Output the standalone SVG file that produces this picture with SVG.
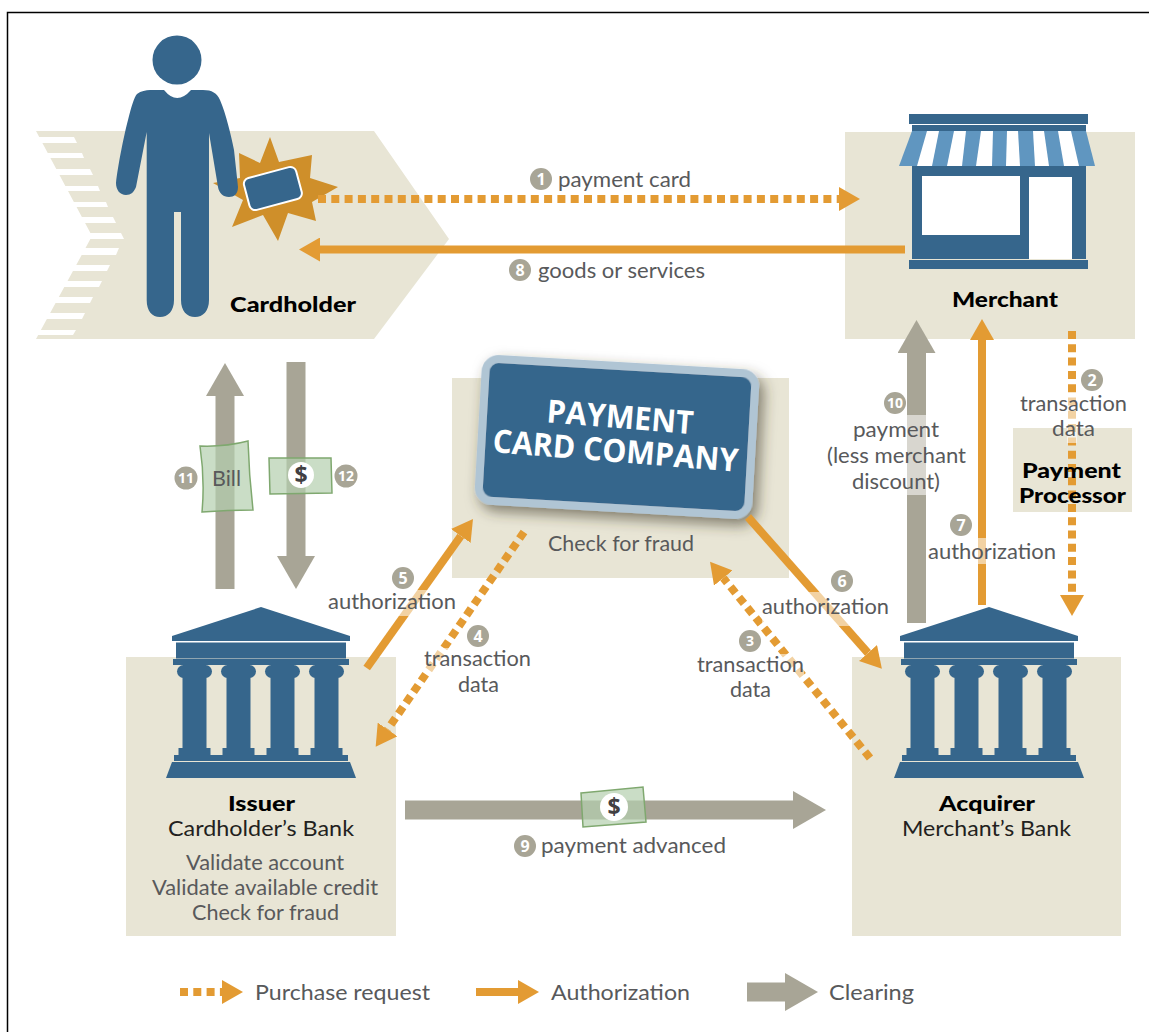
<svg xmlns="http://www.w3.org/2000/svg" xmlns:xlink="http://www.w3.org/1999/xlink" width="1149" height="1032" viewBox="0 0 1149 1032">
<style>
.bg{fill:#e8e5d5}
.blue{fill:#36668c}
.t{font-family:"Lato","Open Sans",sans-serif;font-size:21.500px;fill:#58595b}
.k{fill:#231f20}
.b{font-family:"Lato","Open Sans",sans-serif;font-size:21.500px;font-weight:900;fill:#000}
.n{font-family:"Open Sans","Noto Sans",sans-serif;font-weight:700;font-size:16px;fill:#fff;text-anchor:middle}
.n2{font-size:14px}
.cb{fill:#a8a596}
.o{fill:none;stroke:#e39b33;stroke-width:8;marker-end:url(#ho)}
.d{stroke-dasharray:8 5.3}
.g{fill:none;stroke:#a8a596;stroke-width:19;marker-end:url(#hg)}
.bill{fill:#b3cfae;fill-opacity:.7;stroke:#7fa86f;stroke-width:1.5}
.halo{fill:#fff;fill-opacity:.55}
.dollar{font-family:"Open Sans","Noto Sans",sans-serif;font-weight:700;font-size:23px;fill:#414042;text-anchor:middle}
</style>
<defs>
<marker id="ho" markerUnits="userSpaceOnUse" markerWidth="21" markerHeight="24" refX="0" refY="12" orient="auto"><path d="M0,0L21,12L0,24z" fill="#e39b33"/></marker>
<marker id="hg" markerUnits="userSpaceOnUse" markerWidth="33" markerHeight="38" refX="0" refY="19" orient="auto"><path d="M0,0L33,19L0,38z" fill="#a8a596"/></marker>
<filter id="sh" x="-15%" y="-20%" width="135%" height="150%"><feDropShadow dx="5" dy="6" stdDeviation="7" flood-color="#3a3726" flood-opacity=".6"/></filter>
<g id="col" class="blue"><rect x="-17.500" y="665" width="35" height="13" rx="6.500"/><rect x="-12" y="670" width="24" height="80"/><rect x="-16" y="748" width="32" height="7"/></g>
<g id="bank" class="blue">
<path d="M-89,641V636L0,607L89,636V641z"/>
<rect x="-85" y="642.500" width="170" height="16"/>
<rect x="-88" y="659" width="176" height="6"/>
<use xlink:href="#col" x="-66.500"/><use xlink:href="#col" x="-22.500"/><use xlink:href="#col" x="21.500"/><use xlink:href="#col" x="65.500"/>
<rect x="-87" y="755" width="174" height="6"/>
<path d="M-89,762H89L95,778H-95z"/>
</g>
</defs>
<rect width="1149" height="1032" fill="#fff"/>
<path d="M1149,12.500H7.500V1032" fill="none" stroke="#000" stroke-width="1.500"/>

<g id="cardholder">
<path class="bg" d="M36,131H374L449,239L374,339H36L92,236z"/>
<g fill="#fff">
<path d="M30,137H74L77,143H30z"/><path d="M30,153H82L84,158H30z"/><path d="M30,169H90L93,175H30z"/><path d="M30,186H98L100,191H30z"/><path d="M30,202H106L108,207H30z"/><path d="M30,217H113L116,223H30z"/><path d="M30,233H121L124,239H30z"/>
<path d="M30,248H119L116,255H30z"/><path d="M30,265H110L107,271H30z"/><path d="M30,281H102L99,287H30z"/><path d="M30,297H93L90,303H30z"/><path d="M30,313H85L82,319H30z"/><path d="M30,330H76L73,335H30z"/>
</g>
<path d="M270,137L279,162L312,155L310,178L338,187L312,202L316,221L288,213L278,241L263,215L232,227L243,200L213,183L240,178L239,153L260,163z" fill="#cf8f2a"/>
<rect x="246" y="172" width="54" height="33" rx="6" transform="rotate(-15 273 189)" class="blue" stroke="#fff" stroke-width="2"/>
<circle class="blue" cx="177" cy="60" r="24.500"/>
<path class="blue" d="M164,90Q177,106 191,90H203C212,90 217,93 220,100C226,114 231,135 234,150L238,187C238,194 234,197 229,197C223,197 219,193 218,187L209,133V300C209,311 203,317 195,317C187,317 181,311 181,300V212H174V300C174,311 168,317 160,317C152,317 146.700,311 146.700,300V132L136,187C134,192 131,195 126,195C120,195 116,190 116,183C118,165 124,135 128,120C131,108 134,97 137,94C141,91 146,90 150,90z"/>
<text class="b" x="230" y="312" textLength="126" lengthAdjust="spacingAndGlyphs">Cardholder</text>
</g>

<g id="merchant">
<rect class="bg" x="845" y="132" width="290" height="207"/>
<rect class="blue" x="909" y="114" width="179" height="10"/>
<rect class="blue" x="912" y="125" width="174" height="6"/>
<path d="M912,131H1086L1095,166H899z" fill="#6096c0"/>
<g fill="#fff"><path d="M927,131H939L932,166H917z"/><path d="M954,131H966L962,166H947z"/><path d="M981,131H993L992,166H976z"/><path d="M1007,131H1018L1020,166H1006z"/><path d="M1033,131H1044L1049,166H1035z"/><path d="M1058,131H1071L1079,166H1064z"/></g>
<rect class="blue" x="912" y="166" width="174" height="93"/>
<rect x="922" y="176" width="98" height="59" fill="#fff"/>
<rect x="1029" y="177" width="43" height="82" fill="#fff"/>
<rect class="blue" x="909" y="260" width="179" height="9"/>
<text class="b" x="952" y="307" textLength="106" lengthAdjust="spacingAndGlyphs">Merchant</text>
</g>

<g id="processor">
<rect class="bg" x="1013" y="428" width="119" height="84"/>
</g>

<g id="company">
<rect class="bg" x="452" y="378" width="337" height="200"/>
<rect x="482" y="366" width="270" height="142" rx="13" transform="rotate(3.300 617 437)" class="blue" stroke="#b0c5d4" stroke-width="8" filter="url(#sh)"/>
<g transform="rotate(4.600 616 445)" font-family="'Open Sans','Noto Sans',sans-serif" font-weight="700" font-size="32" fill="#fff" text-anchor="middle">
<text x="618" y="428" textLength="147" lengthAdjust="spacingAndGlyphs">PAYMENT</text>
<text x="616" y="462" textLength="246" lengthAdjust="spacingAndGlyphs">CARD COMPANY</text>
</g>
<text class="t" x="548" y="551" textLength="146" lengthAdjust="spacingAndGlyphs">Check for fraud</text>
</g>

<g id="issuer">
<rect class="bg" x="126" y="657" width="270" height="279"/>
<use xlink:href="#bank" x="261"/>
<text class="b" x="228" y="811" textLength="67" lengthAdjust="spacingAndGlyphs">Issuer</text>
<text class="t k" x="168" y="836" textLength="186" lengthAdjust="spacingAndGlyphs">Cardholder’s Bank</text>
<text class="t" x="186" y="870" textLength="158" lengthAdjust="spacingAndGlyphs">Validate account</text>
<text class="t" x="152" y="895" textLength="226" lengthAdjust="spacingAndGlyphs">Validate available credit</text>
<text class="t" x="192" y="920" textLength="147" lengthAdjust="spacingAndGlyphs">Check for fraud</text>
</g>

<g id="acquirer">
<rect class="bg" x="852" y="657" width="269" height="279"/>
<use xlink:href="#bank" x="989"/>
<text class="b" x="939" y="811" textLength="96" lengthAdjust="spacingAndGlyphs">Acquirer</text>
<text class="t k" x="902" y="836" textLength="169" lengthAdjust="spacingAndGlyphs">Merchant’s Bank</text>
</g>

<g id="connectors">
<path class="o d" d="M318,199H839"/>
<path class="o" d="M905,249.500H320"/>
<path class="o d" d="M1072,331V595"/>
<path class="o" d="M982,605V340"/>
<path class="g" d="M916.500,623V353"/>
<path class="g" d="M225,589V396"/>
<path class="g" d="M296,362V556"/>
<path class="g" d="M405,810H793"/>
<path class="o" d="M366.700,668L460.800,536"/>
<path class="o" d="M748,517L868,653"/>
<path class="o d" d="M524,532L387.600,729.400"/>
<path class="o d" d="M870,758L723.300,578"/>
<path class="bill" d="M200,446Q225,447 248,441Q249,475 253,510Q228,510 202,512Q205,480 200,446z"/>
<path class="bill" d="M269,458L331,458L332,493L270,494z"/>
<circle cx="301" cy="475" r="13" fill="#fff"/>
<text class="dollar" x="301" y="483">$</text>
<path class="bill" d="M581,793L643,787L646,822L583,827z"/>
<circle cx="614" cy="807" r="14" fill="#fff"/>
<text class="dollar" x="614" y="815">$</text>
</g>

<g id="labels">
<rect class="halo" x="328" y="590" width="128" height="26"/>
<rect class="halo" x="424" y="648" width="107" height="25"/>
<rect class="halo" x="697" y="654" width="107" height="27"/>
<rect class="halo" x="762" y="592" width="127" height="34"/>
<rect class="halo" x="976" y="538" width="12" height="26"/>
<rect class="halo" x="906" y="415" width="21" height="80"/>
<rect class="halo" x="1067" y="395" width="10" height="48"/>
<text class="b" x="1022" y="478" textLength="99" lengthAdjust="spacingAndGlyphs">Payment</text>
<text class="b" x="1019" y="503" textLength="107" lengthAdjust="spacingAndGlyphs">Processor</text>
<text class="t" x="558" y="187" textLength="133" lengthAdjust="spacingAndGlyphs">payment card</text>
<text class="t" x="538" y="278" textLength="167" lengthAdjust="spacingAndGlyphs">goods or services</text>
<text class="t" x="1020" y="411" textLength="107" lengthAdjust="spacingAndGlyphs">transaction</text>
<text class="t" x="1052" y="436" textLength="43" lengthAdjust="spacingAndGlyphs">data</text>
<text class="t" x="853" y="437" textLength="86" lengthAdjust="spacingAndGlyphs">payment</text>
<text class="t" x="827" y="463" textLength="139" lengthAdjust="spacingAndGlyphs">(less merchant</text>
<text class="t" x="852" y="489" textLength="88" lengthAdjust="spacingAndGlyphs">discount)</text>
<text class="t" x="928" y="559" textLength="128" lengthAdjust="spacingAndGlyphs">authorization</text>
<text class="t" x="762" y="614" textLength="127" lengthAdjust="spacingAndGlyphs">authorization</text>
<text class="t" x="328" y="609" textLength="128" lengthAdjust="spacingAndGlyphs">authorization</text>
<text class="t" x="424" y="666" textLength="107" lengthAdjust="spacingAndGlyphs">transaction</text>
<text class="t" x="458" y="692" textLength="41" lengthAdjust="spacingAndGlyphs">data</text>
<text class="t" x="697" y="672" textLength="107" lengthAdjust="spacingAndGlyphs">transaction</text>
<text class="t" x="730" y="697" textLength="41" lengthAdjust="spacingAndGlyphs">data</text>
<text class="t" x="541" y="853" textLength="185" lengthAdjust="spacingAndGlyphs">payment advanced</text>
<text class="t" x="212" y="486" textLength="29" lengthAdjust="spacingAndGlyphs">Bill</text>
<g>
<circle class="cb" cx="541" cy="179" r="11"/><text class="n" x="541" y="184.500">1</text>
<circle class="cb" cx="520" cy="270" r="11"/><text class="n" x="520" y="275.500">8</text>
<circle class="cb" cx="1092" cy="380" r="11"/><text class="n" x="1092" y="385.500">2</text>
<circle class="cb" cx="895" cy="403" r="11"/><text class="n n2" x="895" y="408">10</text>
<circle class="cb" cx="961" cy="525" r="11"/><text class="n" x="961" y="530.500">7</text>
<circle class="cb" cx="842" cy="581" r="11"/><text class="n" x="842" y="586.500">6</text>
<circle class="cb" cx="403" cy="578" r="11"/><text class="n" x="403" y="583.500">5</text>
<circle class="cb" cx="478" cy="636" r="11"/><text class="n" x="478" y="641.500">4</text>
<circle class="cb" cx="750" cy="641" r="11"/><text class="n n2" x="750" y="646">3</text>
<circle class="cb" cx="186" cy="478" r="11.500"/><text class="n n2" x="186" y="483">11</text>
<circle class="cb" cx="346" cy="476" r="11.500"/><text class="n n2" x="346" y="481">12</text>
<circle class="cb" cx="525" cy="846" r="11"/><text class="n" x="525" y="851.500">9</text>
</g>
</g>

<g id="legend">
<path class="o d" d="M180,992H222"/>
<text class="t" x="255" y="1000" textLength="175" lengthAdjust="spacingAndGlyphs">Purchase request</text>
<path class="o" d="M476,992H518"/>
<text class="t" x="551" y="1000" textLength="139" lengthAdjust="spacingAndGlyphs">Authorization</text>
<path class="g" d="M747,992H785"/>
<text class="t" x="829" y="1000" textLength="85" lengthAdjust="spacingAndGlyphs">Clearing</text>
</g>
</svg>
